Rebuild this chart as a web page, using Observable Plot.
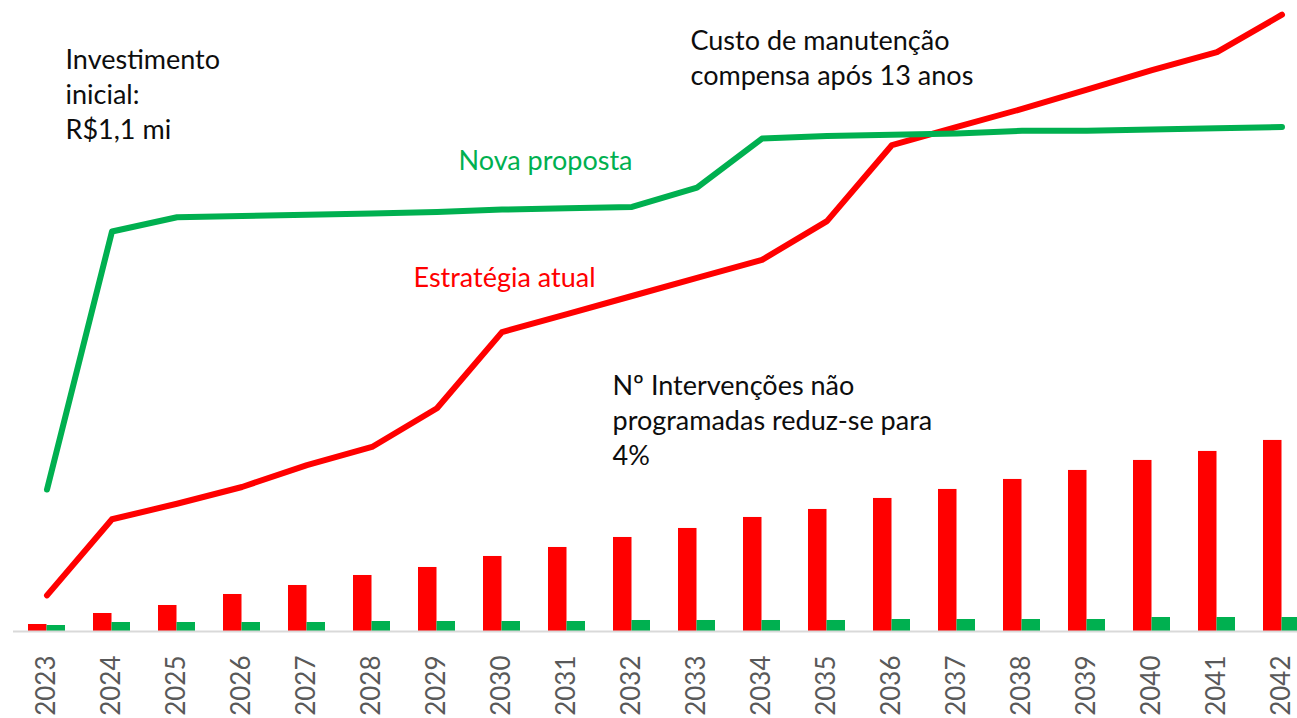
<!DOCTYPE html>
<html><head><meta charset="utf-8">
<script src="https://cdn.jsdelivr.net/npm/d3@7"></script>
<script src="https://cdn.jsdelivr.net/npm/@observablehq/plot@0.6"></script>
<style>
html,body{margin:0;padding:0;background:#fff;overflow:hidden;}
</style></head><body><div id="chart"></div>
<script>
// Years (categories)
const years = [2023,2024,2025,2026,2027,2028,2029,2030,2031,2032,2033,2034,2035,2036,2037,2038,2039,2040,2041,2042];
// Cumulative cost, R$ mi
const custoAtual = [0.28,0.87,0.99,1.12,1.29,1.43,1.73,2.32,2.46,2.60,2.74,2.88,3.18,3.77,3.91,4.05,4.20,4.35,4.49,4.78];
const custoNova  = [1.10,3.10,3.21,3.22,3.23,3.24,3.25,3.27,3.28,3.29,3.44,3.82,3.84,3.85,3.86,3.88,3.88,3.89,3.90,3.91];
// Unplanned interventions (secondary axis units)
const intervAtual = [7,18,26,37,46,56,64,75,84,94,103,114,122,133,142,152,161,171,180,191];
const intervNova  = [6,9,9,9,9,10,10,10,10,11,11,11,11,12,12,12,12,14,14,14];
const intervToCusto = 1/129; // secondary-axis ratio
// Texts
const annInvest = "Investimento\ninicial:\nR$1,1 mi";
const annCusto = "Custo de manutenção\ncompensa após 13 anos";
const labelNova = "Nova proposta";
const labelAtual = "Estratégia atual";
const annInterv = "Nº Intervenções não\nprogramadas reduz-se para\n4%";

const RED = "#ff0000", GREEN = "#00b050";
const rows = years.map((y, i) => ({
  year: String(y),
  atual: custoAtual[i],
  nova: custoNova[i],
  iAtual: intervAtual[i] * intervToCusto,
  iNova: intervNova[i] * intervToCusto
}));

const FS = 27, LH = 35 / 27;
const ann = (t, dx, dy, fill) => Plot.text([t], {
  text: d => d, frameAnchor: "top-left", dx, dy, textAnchor: "start", lineAnchor: "top",
  lineHeight: LH, fontSize: FS, fill
});

const plot = Plot.plot({
  width: 1297, height: 718,
  marginTop: 0, marginBottom: 87, marginLeft: 13, marginRight: 0,
  style: {fontFamily: "Lato", background: "#fff"},
  x: {type: "band", domain: years.map(String), range: [13.5, 1313.5], padding: 0},
  y: {domain: [0, 4.89], axis: null},
  marks: [
    Plot.barY(rows, {x: "year", y: "iAtual", fill: RED, insetLeft: 14, insetRight: 32.5}),
    Plot.barY(rows, {x: "year", y: "iNova", fill: GREEN, insetLeft: 32.5, insetRight: 14}),
    Plot.ruleY([0], {stroke: "#d9d9d9", strokeWidth: 2}),
    Plot.lineY(rows, {x: "year", y: "atual", stroke: RED, strokeWidth: 6, strokeLinecap: "round", strokeLinejoin: "round"}),
    Plot.lineY(rows, {x: "year", y: "nova", stroke: GREEN, strokeWidth: 6, strokeLinecap: "round", strokeLinejoin: "round"}),
    Plot.axisX({tickSize: 0, tickRotate: -90, tickPadding: 24, fontSize: 26, color: "#595959", label: null}),
    ann(annInvest, 52, 44, "#0d0d0d"),
    ann(annCusto, 677, 25, "#0d0d0d"),
    ann(labelNova, 445, 145, GREEN),
    ann(labelAtual, 400, 262, RED),
    ann(annInterv, 599, 370, "#0d0d0d")
  ]
});
document.getElementById("chart").appendChild(plot);
</script></body></html>
